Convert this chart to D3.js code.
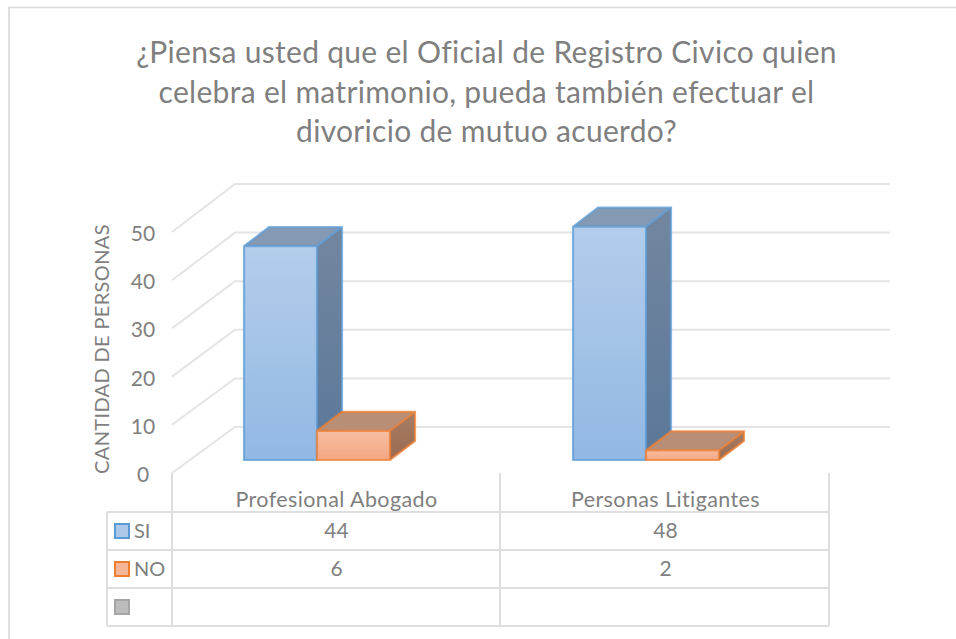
<!DOCTYPE html>
<html>
<head>
<meta charset="utf-8">
<script src="https://cdn.jsdelivr.net/npm/d3@7"></script>
<style>
html, body { margin: 0; padding: 0; background: #fff; }
svg text { font-family: Lato, "Open Sans", sans-serif; fill: #7f7f7f; }
</style>
</head>
<body>
<div id="chart"></div>
<script>
const titleLines = [
    "¿Piensa usted que el Oficial de Registro Civico quien",
    "celebra el matrimonio, pueda también efectuar el",
    "divoricio de mutuo acuerdo?"
];
const categories = ["Profesional Abogado", "Personas Litigantes"];
const seriesNames = ["SI", "NO", ""];
const siValues = [44, 48];
const noValues = [6, 2];
const yTicks = [0, 10, 20, 30, 40, 50];

const width = 956, height = 639;
const svg = d3.select("#chart").append("svg").attr("width", width).attr("height", height)
    .style("display", "block");

// chart frame, the picture is cropped so only top and left show
svg.append("path").attr("d", "M9,639V7.5H956")
    .attr("fill", "none").attr("stroke", "#d9d9d9").attr("stroke-width", 1.6);

// title
svg.append("g").selectAll("text").data(titleLines).join("text")
    .attr("x", 486.5)
    .attr("y", (d, i) => 63 + i * 39.5)
    .attr("text-anchor", "middle")
    .attr("font-size", 30)
    .attr("letter-spacing", 0.3)
    .text(d => d);

// front and back value scales, the floor goes back by wallDx / wallDy
const y = d3.scaleLinear().domain([0, 50]).range([460, 217]);
const yFront = d3.scaleLinear().domain([0, 50]).range([473, 232]);
const yBack = d3.scaleLinear().domain([0, 50]).range([427, 184]);
const wallLeft = 172, wallBack = 235, wallRight = 890;

const x = d3.scaleBand().domain(categories).range([172, 830]);
const xSeries = d3.scaleBand().domain(["SI", "NO"]).range([0, 146]);
const barLeft = d => x(d) + 72;

const grid = svg.append("g").attr("fill", "none").attr("stroke", "#e4e4e4").attr("stroke-width", 2);
grid.selectAll("path").data(yTicks).join("path")
    .attr("d", d => `M${wallLeft},${yFront(d)}L${wallBack},${yBack(d)}H${wallRight}`);

// tick labels
svg.append("g").selectAll("text").data(yTicks).join("text")
    .attr("x", 143)
    .attr("y", d => yFront(d) + 9)
    .attr("text-anchor", "middle")
    .attr("font-size", 21)
    .text(d => d);

svg.append("text")
    .attr("transform", "translate(109,349) rotate(-90)")
    .attr("text-anchor", "middle")
    .attr("font-size", 20)
    .attr("letter-spacing", 0.35)
    .text("CANTIDAD DE PERSONAS");

// gradients
const defs = svg.append("defs");
function gradient(id, top, bottom) {
    const g = defs.append("linearGradient").attr("id", id).attr("x1", 0).attr("y1", 0).attr("x2", 0).attr("y2", 1);
    g.append("stop").attr("offset", "0%").attr("stop-color", top);
    g.append("stop").attr("offset", "100%").attr("stop-color", bottom);
}
gradient("siFront", "#b3cdeb", "#92b8e3");
gradient("siSide", "#72869f", "#5b7899");
gradient("noFront", "#f7bda1", "#f4a884");
gradient("noSide", "#a57d66", "#9b6b50");

const depthX = 25, depthY = 19;
const styles = {
    SI: { front: "url(#siFront)", top: "#8499b3", side: "url(#siSide)", stroke: "#5b9bd5" },
    NO: { front: "url(#noFront)", top: "#b98e77", side: "url(#noSide)", stroke: "#ed7d31" }
};

function drawBar(g, name, left, value) {
    const w = xSeries.bandwidth(), top = y(value), base = y(0), st = styles[name];
    g.append("path")
        .attr("d", `M${left + w},${base}L${left + w + depthX},${base - depthY}V${top - depthY}L${left + w},${top}Z`)
        .attr("fill", st.side);
    g.append("path")
        .attr("d", `M${left},${top}L${left + depthX},${top - depthY}H${left + w + depthX}L${left + w},${top}Z`)
        .attr("fill", st.top);
    g.append("rect")
        .attr("x", left).attr("y", top).attr("width", w).attr("height", base - top)
        .attr("fill", st.front);
    g.append("path")
        .attr("d", `M${left},${base}V${top}L${left + depthX},${top - depthY}H${left + w + depthX}V${base - depthY}L${left + w},${base}Z` +
            `M${left},${top}H${left + w}V${base}H${left}M${left + w},${top}L${left + w + depthX},${top - depthY}`)
        .attr("fill", "none").attr("stroke", st.stroke).attr("stroke-width", 2.2).attr("stroke-opacity", 0.75);
}

const bars = svg.append("g");
categories.forEach((c, i) => {
    drawBar(bars, "SI", barLeft(c) + xSeries("SI"), siValues[i]);
    drawBar(bars, "NO", barLeft(c) + xSeries("NO"), noValues[i]);
});

// data table under the chart
const rowY = d3.scalePoint().domain(seriesNames).range([531, 607]);
const table = svg.append("g").attr("fill", "none").attr("stroke", "#dedede").attr("stroke-width", 2);
[512, 550, 588, 626].forEach(v => table.append("line").attr("x1", 107).attr("x2", 829).attr("y1", v).attr("y2", v));
[172].concat(categories.map(c => x(c) + x.bandwidth() - 1)).forEach(v =>
    table.append("line").attr("x1", v).attr("x2", v).attr("y1", 473).attr("y2", 626));
table.append("line").attr("x1", 107).attr("x2", 107).attr("y1", 512).attr("y2", 626);

svg.append("g").selectAll("text").data(categories).join("text")
    .attr("x", d => x(d) + x.bandwidth() / 2)
    .attr("y", 507)
    .attr("text-anchor", "middle")
    .attr("font-size", 21.5)
    .attr("letter-spacing", 0.4)
    .text(d => d);

const rows = [["SI", siValues], ["NO", noValues]];
rows.forEach(([name, values]) => {
    svg.append("g").selectAll("text").data(values).join("text")
        .attr("x", (d, i) => x(categories[i]) + x.bandwidth() / 2)
        .attr("y", rowY(name) + 7)
        .attr("text-anchor", "middle")
        .attr("font-size", 21)
        .text(d => d);
});

const keyFill = { "SI": "#adc8e8", "NO": "#f5b597", "": "#bdbdbd" };
const keyStroke = { "SI": "#5b9bd5", "NO": "#ed7d31", "": "#a5a5a5" };
const legend = svg.append("g").selectAll("g").data(seriesNames).join("g")
    .attr("transform", d => `translate(115,${rowY(d)})`);
legend.append("rect")
    .attr("x", 0).attr("y", -7).attr("width", 14).attr("height", 14)
    .attr("fill", d => keyFill[d]).attr("stroke", d => keyStroke[d]).attr("stroke-width", 2);
legend.append("text")
    .attr("x", 19).attr("y", 7).attr("font-size", 20)
    .text(d => d);
</script>
</body>
</html>
